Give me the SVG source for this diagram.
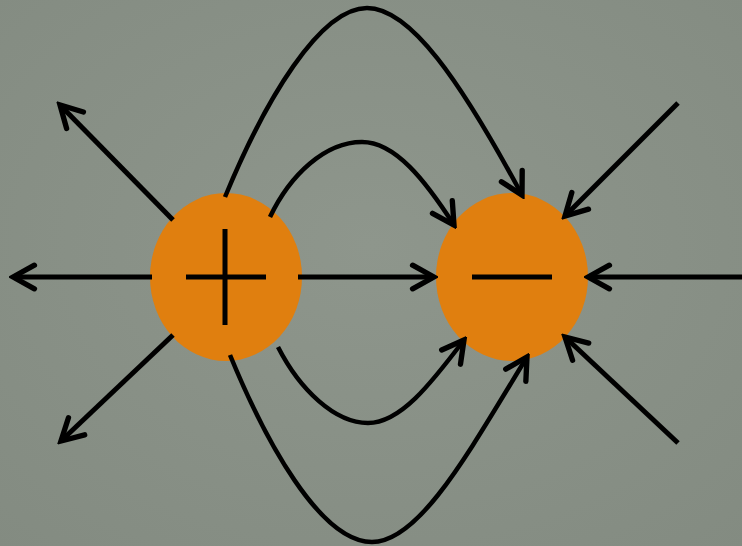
<svg xmlns="http://www.w3.org/2000/svg" width="742" height="546" viewBox="0 0 742 546">
  <defs>
    <radialGradient id="bg" cx="50%" cy="45%" r="75%">
      <stop offset="0" stop-color="#8e968c"/>
      <stop offset="1" stop-color="#838b81"/>
    </radialGradient>
    <marker id="arrow" markerUnits="userSpaceOnUse" markerWidth="30" markerHeight="30" viewBox="-24 -14 28 28" refX="0" refY="0" orient="auto">
      <path d="M-20,-11 L0,0 L-20,11" fill="none" stroke="#000" stroke-width="5" stroke-linecap="round" stroke-linejoin="miter"/>
    </marker>
    <style>
      .charge { fill: #e07f0f; }
      .sign { stroke: #000; stroke-width: 5; fill: none; }
      .field { fill: none; stroke: #000; stroke-width: 5; marker-end: url(#arrow); }
      .curve { fill: none; stroke: #000; stroke-width: 4.5; marker-end: url(#arrow); }
    </style>
  </defs>
  <rect x="0" y="0" width="742" height="546" fill="url(#bg)"/>

  <g id="plus">
    <ellipse class="charge" cx="226" cy="277" rx="76" ry="84"/>
    <line class="sign" x1="186" y1="277" x2="266" y2="277"/>
    <line class="sign" x1="225" y1="229" x2="225" y2="325"/>
  </g>

  <g id="minus">
    <ellipse class="charge" cx="512" cy="277" rx="76" ry="84"/>
    <line class="sign" x1="472" y1="277" x2="552" y2="277"/>
  </g>

  <g id="connectors">
    <line class="field" x1="173" y1="220" x2="60" y2="105"/>
    <line class="field" x1="152" y1="277" x2="13" y2="277"/>
    <line class="field" x1="173" y1="335" x2="61" y2="441"/>
    <line class="field" x1="298" y1="277" x2="434" y2="277"/>
    <line class="field" x1="678" y1="103" x2="565" y2="216"/>
    <line class="field" x1="742" y1="277" x2="588" y2="277"/>
    <line class="field" x1="678" y1="443" x2="565" y2="337"/>
    <path class="curve" d="M225,197 C265,100 320,8 367,8 C410,8 460,80 522,195"/>
    <path class="curve" d="M270,217 C290,175 325,142 362,142 C395,142 425,180 454,225"/>
    <path class="curve" d="M230,355 C265,440 320,542 372,542 C420,542 470,450 527,357"/>
    <path class="curve" d="M278,347 C300,390 335,423 368,423 C400,423 430,385 464,340"/>
  </g>
</svg>
